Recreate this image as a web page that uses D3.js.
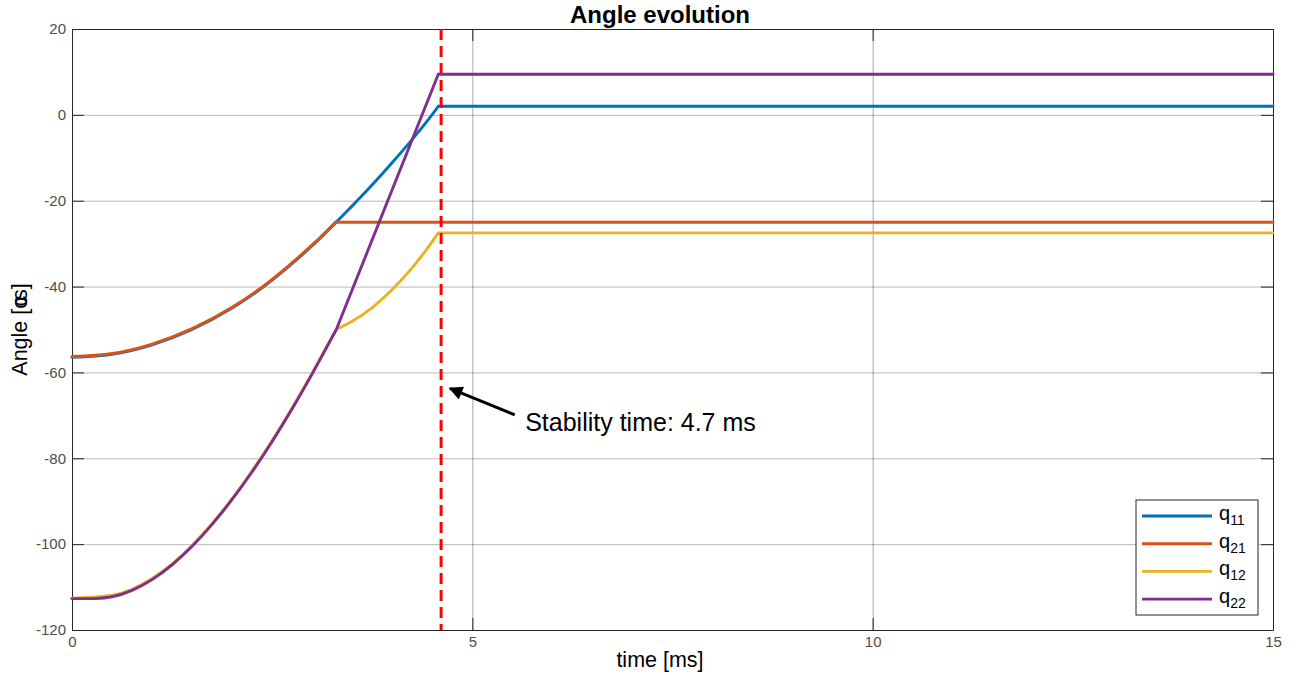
<!DOCTYPE html>
<html>
<head>
<meta charset="utf-8">
<script src="https://cdn.jsdelivr.net/npm/d3@7"></script>
<style>
  body { margin: 0; background: #fff; }
  svg { font-family: "Liberation Sans", Arial, Helvetica, sans-serif; }
  .tick text { fill: #4d4d4d; font-size: 15px; }
</style>
</head>
<body>
<script>
// values (time in ms, angle in degrees)
const q11Time  = [0, 0.5, 1.0, 1.5, 2.0, 2.5, 3.0, 3.29, 3.5, 3.75, 4.0, 4.25, 4.45, 4.575, 15]
const q11Angle = [-56.5, -55.8, -53.6, -50.0, -45.0, -38.5, -30.5, -25.2, -21.2, -16.3, -11.1, -5.7, -1.1, 2.0, 2.0]
const q11Kinks = [13]

const q21Time  = [0, 0.5, 1.0, 1.5, 2.0, 2.5, 3.0, 3.29, 15]
const q21Angle = [-56.3, -55.6, -53.4, -49.8, -44.8, -38.3, -30.3, -25.0, -25.0]
const q21Kinks = [7]

const q12Time  = [0, 0.25, 0.5, 0.75, 1.0, 1.25, 1.5, 1.75, 2.0, 2.25, 2.5, 2.75, 3.0, 3.3, 3.5, 3.75, 4.0, 4.25, 4.45, 4.575, 15]
const q12Angle = [-112.6, -112.35, -111.9, -110.5, -108.0, -104.6, -100.3, -95.2, -89.4, -82.9, -75.85, -68.25, -60.15, -50.0, -48.1, -44.9, -40.7, -35.6, -30.8, -27.5, -27.5]
const q12Kinks = [13, 19]

const q22Time  = [0, 0.28, 0.5, 0.75, 1.0, 1.25, 1.5, 1.75, 2.0, 2.25, 2.5, 2.75, 3.0, 3.3, 4.575, 15]
const q22Angle = [-112.7, -112.7, -112.26, -110.76, -108.26, -104.82, -100.51, -95.39, -89.58, -83.14, -76.08, -68.45, -60.33, -50.05, 9.45, 9.45]
const q22Kinks = [1, 13, 14]

const seriesNames = ['11', '21', '12', '22']
const colors = ['#0072BD', '#D95319', '#EDB120', '#7E2F8E']

const xTicks = [0, 5, 10, 15]
const yTicks = [-120, -100, -80, -60, -40, -20, 0, 20]

const stabilityTime = 4.61
const arrowFrom = [5.53, -69.9]
const arrowTo = [4.72, -63.7]
const noteAt = [5.66, -73.6]

const W = 1298
const H = 675
const margin = { left: 72, right: 25, top: 29, bottom: 45 }
const pw = W - margin.left - margin.right
const ph = H - margin.top - margin.bottom

const svg = d3.select('body').append('svg')
  .attr('width', W)
  .attr('height', H)

const x = d3.scaleLinear().domain([0, 15]).range([margin.left, margin.left + pw])
const y = d3.scaleLinear().domain([-120, 20]).range([margin.top + ph, margin.top])

const plain = d => String(d)

// grid
svg.append('g')
  .attr('transform', `translate(${margin.left},0)`)
  .call(d3.axisLeft(y).tickValues(yTicks).tickSize(-pw).tickFormat(''))
  .call(g => g.select('.domain').remove())
  .call(g => g.selectAll('line').attr('stroke', '#262626').attr('stroke-opacity', 0.32))

svg.append('g')
  .attr('transform', `translate(0,${margin.top + ph})`)
  .call(d3.axisBottom(x).tickValues(xTicks).tickSize(-ph).tickFormat(''))
  .call(g => g.select('.domain').remove())
  .call(g => g.selectAll('line').attr('stroke', '#262626').attr('stroke-opacity', 0.4))

// axes with inward ticks
const tickLen = 12
svg.append('g')
  .attr('transform', `translate(${margin.left},0)`)
  .call(d3.axisLeft(y).tickValues(yTicks).tickFormat(plain).tickSizeInner(-tickLen).tickSizeOuter(0).tickPadding(6))
  .call(g => g.select('.domain').attr('stroke', '#262626'))
  .call(g => g.selectAll('line').attr('stroke', '#262626'))

svg.append('g')
  .attr('transform', `translate(${margin.left + pw},0)`)
  .call(d3.axisRight(y).tickValues(yTicks).tickSizeInner(-tickLen).tickSizeOuter(0).tickFormat(''))
  .call(g => g.select('.domain').attr('stroke', '#262626'))
  .call(g => g.selectAll('line').attr('stroke', '#262626'))

svg.append('g')
  .attr('transform', `translate(0,${margin.top + ph})`)
  .call(d3.axisBottom(x).tickValues(xTicks).tickFormat(plain).tickSizeInner(-tickLen).tickSizeOuter(0).tickPadding(6))
  .call(g => g.select('.domain').attr('stroke', '#262626'))
  .call(g => g.selectAll('line').attr('stroke', '#262626'))

svg.append('g')
  .attr('transform', `translate(0,${margin.top})`)
  .call(d3.axisTop(x).tickValues(xTicks).tickSizeInner(-tickLen).tickSizeOuter(0).tickFormat(''))
  .call(g => g.select('.domain').attr('stroke', '#262626'))
  .call(g => g.selectAll('line').attr('stroke', '#262626'))

// curves, split at sharp corners
const curve = d3.line()
  .x(d => x(d[0]))
  .y(d => y(d[1]))
  .curve(d3.curveNatural)

function pathFor (times, angles, kinks) {
  const pts = times.map((t, i) => [t, angles[i]])
  const cuts = [0, ...kinks, pts.length - 1]
  let d = ''
  for (let i = 0; i < cuts.length - 1; i++) {
    d += curve(pts.slice(cuts[i], cuts[i + 1] + 1))
  }
  return d
}

const series = [
  [q11Time, q11Angle, q11Kinks],
  [q21Time, q21Angle, q21Kinks],
  [q12Time, q12Angle, q12Kinks],
  [q22Time, q22Angle, q22Kinks]
]

const plot = svg.append('g')
series.forEach((s, i) => {
  plot.append('path')
    .attr('d', pathFor(s[0], s[1], s[2]))
    .attr('fill', 'none')
    .attr('stroke', colors[i])
    .attr('stroke-width', 2.9)
    .attr('stroke-linejoin', 'round')
    .attr('stroke-linecap', 'round')
})

// stability marker
svg.append('line')
  .attr('x1', x(stabilityTime)).attr('x2', x(stabilityTime))
  .attr('y1', y(20)).attr('y2', y(-120))
  .attr('stroke', '#FF0000')
  .attr('stroke-width', 3)
  .attr('stroke-dasharray', '11,6')

svg.append('defs').append('marker')
  .attr('id', 'head')
  .attr('viewBox', '0 0 10 10')
  .attr('refX', 9).attr('refY', 5)
  .attr('markerWidth', 6).attr('markerHeight', 4.6)
  .attr('markerUnits', 'strokeWidth')
  .attr('orient', 'auto')
  .append('path')
  .attr('d', 'M0,0 L10,5 L0,10 Z')
  .attr('fill', '#000')

svg.append('line')
  .attr('x1', x(arrowFrom[0])).attr('y1', y(arrowFrom[1]))
  .attr('x2', x(arrowTo[0])).attr('y2', y(arrowTo[1]))
  .attr('stroke', '#000')
  .attr('stroke-width', 3)
  .attr('marker-end', 'url(#head)')

svg.append('text')
  .attr('x', x(noteAt[0]))
  .attr('y', y(noteAt[1]))
  .attr('font-size', 25)
  .attr('fill', '#000')
  .text('Stability time: 4.7 ms')

// title and labels
svg.append('text')
  .attr('x', 660).attr('y', 23)
  .attr('text-anchor', 'middle')
  .attr('font-size', 24)
  .attr('font-weight', 'bold')
  .attr('fill', '#000')
  .text('Angle evolution')

svg.append('text')
  .attr('x', 660).attr('y', 667)
  .attr('text-anchor', 'middle')
  .attr('font-size', 21.5)
  .attr('fill', '#000')
  .text('time [ms]')

const yl = svg.append('text')
  .attr('transform', `translate(27,${margin.top + ph / 2}) rotate(-90)`)
  .attr('text-anchor', 'middle')
  .attr('font-size', 21.5)
  .attr('fill', '#000')
yl.append('tspan').text('Angle [')
yl.append('tspan').text('o')
yl.append('tspan').attr('dx', '-0.45em').text('c')
yl.append('tspan').attr('dx', '-0.2em').text('s]')

// legend
const lg = svg.append('g').attr('transform', 'translate(1136,500)')
lg.append('rect')
  .attr('width', 122).attr('height', 115)
  .attr('fill', '#fff')
  .attr('stroke', '#262626')
seriesNames.forEach((n, i) => {
  const row = 16 + i * 27.7
  lg.append('line')
    .attr('x1', 6).attr('x2', 76)
    .attr('y1', row).attr('y2', row)
    .attr('stroke', colors[i])
    .attr('stroke-width', 2.9)
  const t = lg.append('text')
    .attr('x', 83).attr('y', row + 4)
    .attr('font-size', 20)
    .attr('fill', '#000')
  t.append('tspan').text('q')
  t.append('tspan').attr('dy', 5).attr('font-size', 14).text(n)
})
</script>
</body>
</html>
